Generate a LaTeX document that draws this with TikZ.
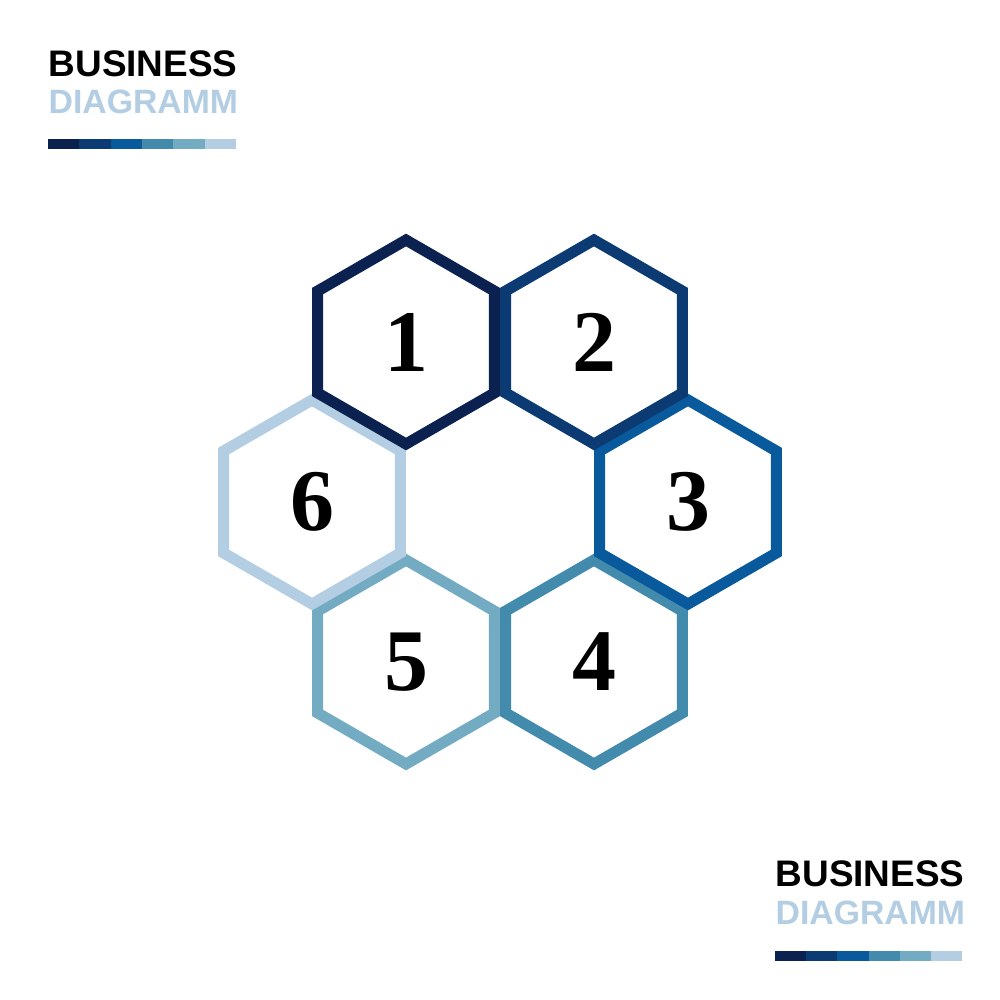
\documentclass[tikz,border=0pt]{standalone}
\usepackage{fontspec}
\setmainfont{Liberation Serif}
\setsansfont{Liberation Sans}
\usetikzlibrary{positioning}

\definecolor{hexone}{HTML}{0B2250}
\definecolor{hextwo}{HTML}{0C3B73}
\definecolor{hexthree}{HTML}{085A9C}
\definecolor{hexfour}{HTML}{428BAD}
\definecolor{hexfive}{HTML}{72ABC2}
\definecolor{hexsix}{HTML}{B3CEE3}

\tikzset{
	numtext/.style={font=\fontsize{25}{25}\selectfont\bfseries, inner sep=0pt},
	hexline/.style={line width=0.11cm, line join=miter},
	titleblack/.style={font=\sffamily\bfseries\fontsize{10.5}{12}\selectfont, anchor=base west, inner sep=0pt},
	titleblue/.style={font=\sffamily\bfseries\fontsize{9.6}{12}\selectfont, anchor=base west, inner sep=0pt, text=hexsix},
}

% one pointy-top hexagon round a named node
\newcommand{\hexat}[2]{\draw[hexline,#2] (#1.center) ++(90:102) -- ++(-30:102) -- ++(-90:102) -- ++(-150:102) -- ++(150:102) -- ++(90:102) -- cycle;}

\begin{document}
\begin{tikzpicture}[x=0.01cm, y=-0.01cm]
			%%%%% FRAME %%%%%
			\useasboundingbox (0,0) rectangle (1000,1000);
			\fill[white] (0,0) rectangle (1000,1000);
			
			%%%%% TITLE TOP LEFT %%%%%
			\node[titleblack] (busA) at (48, 76) {BUSINESS};
			\node[titleblue] (diaA) at (48, 113) {DIAGRAMM};
			\foreach \c [count=\i from 0] in {hexone,hextwo,hexthree,hexfour,hexfive,hexsix}
				\fill[\c] (48+\i*31.33, 139) rectangle ++(31.33, 10);
			
			%%%%% NUMBERS %%%%%
			\node[numtext] (h1) at (406, 342) {1};
			\node[numtext] (h2) at (594, 342) {2};
			\node[numtext] (h3) at (688, 502) {3};
			\node[numtext] (h4) at (594, 662) {4};
			\node[numtext] (h5) at (406, 662) {5};
			\node[numtext] (h6) at (312, 502) {6};
			
			%%%%% HEXAGONS %%%%%
			\hexat{h4}{hexfour}
			\hexat{h5}{hexfive}
			\hexat{h6}{hexsix}
			\hexat{h3}{hexthree}
			\hexat{h2}{hextwo}
			\hexat{h1}{hexone}
			
			%%%%% TITLE BOTTOM RIGHT %%%%%
			\node[titleblack] (busB) at (775, 886) {BUSINESS};
			\node[titleblue] (diaB) at (775, 924) {DIAGRAMM};
			\foreach \c [count=\i from 0] in {hexone,hextwo,hexthree,hexfour,hexfive,hexsix}
				\fill[\c] (775+\i*31.2, 951) rectangle ++(31.2, 10);
			
			%%%%% END %%%%%
\end{tikzpicture}
\end{document}
